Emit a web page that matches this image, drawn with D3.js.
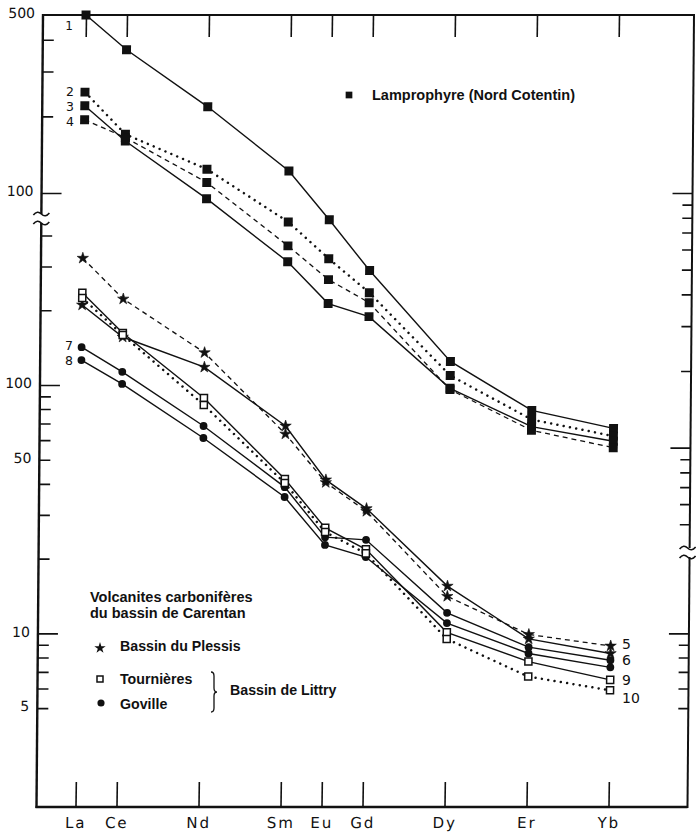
<!DOCTYPE html>
<html><head><meta charset="utf-8">
<script src="https://cdn.jsdelivr.net/npm/d3@7"></script>
<style>html,body{margin:0;padding:0;background:#fff}</style>
</head><body>
<svg id="chart" width="696" height="835"></svg>
<script>
// ---------- data ----------
const elements = ["La","Ce","Nd","Sm","Eu","Gd","Dy","Er","Yb"];
const atomicNumbers = [57,58,60,62,63,64,66,68,70];

// Lamprophyres (Nord Cotentin) - upper panel
const lamp1 = [500, 365, 218, 122, 78.5, 49.6, 21.8, 14.0, 11.9];
const lamp2 = [249, 170, 124, 77, 55.2, 40.6, 19.2, 12.9, 11.1];
const lamp3 = [220, 160, 95, 53.7, 36.8, 32.7, 17.1, 12.1, 10.6];
const lamp4 = [194, 165, 110, 62, 45.7, 37.1, 16.9, 11.7, 10.0];

// Volcanites carbonifères - lower panel
const plessis5 = [324, 222, 135, 63.5, 40.5, 31.0, 14.1, 9.9, 8.9];
const plessis6 = [210, 156, 118, 68.4, 41.5, 31.8, 15.5, 9.5, 8.3];
const goville7 = [142, 113, 68.4, 38.8, 24.4, 23.8, 12.1, 8.8, 7.8];
const goville8 = [126, 101, 61.2, 35.4, 22.7, 20.3, 11.0, 8.3, 7.3];
const tourn9   = [235, 162, 88.7, 41.8, 26.6, 21.8, 10.1, 7.7, 6.5];
const tourn10  = [224, 159, 83.1, 40.3, 25.6, 21.0, 9.5, 6.7, 5.9];

// tick values
const upperLeftMinor = [400, 300, 200];
const upperMajor = [100];
const upperRightMinor = [90, 80, 70, 60, 50, 40, 30, 20, 9, 8, 7, 6, 5];
const upperRightMajor = [100, 10];
const lowerLeftMinor = [400, 300, 200, 90, 80, 70, 60, 50, 40, 30, 20, 9, 8, 7, 6, 5];
const lowerMajor = [100, 10];
const lowerRightMinor = [9, 8, 7, 6, 5];
const lowerRightMajor = [10];
const upperLabels = [500, 100];
const lowerLabels = [100, 50, 10, 5];

// ---------- layout ----------
const svg = d3.select("#chart");
const topY = 15, bottomY = 807, innerH = bottomY - topY;
const frameLeft = 43, frameRight = 694;
const deg = v => Math.atan(v) * 180 / Math.PI;
const frameSkew = deg(-6.5 / innerH);
const dataSkew = deg(-10.5 / innerH);

const x = d3.scaleLinear().domain([57, 70]).range([86, 619]);
const yUp = d3.scaleLog().domain([100, 500]).range([178, 0]);
const yLo = d3.scaleLog().domain([2, 100]).range([innerH, 370]);

const frame = svg.append("g").attr("transform", `translate(0,${topY}) skewX(${frameSkew})`);
const plot = svg.append("g").attr("transform", `translate(0,${topY}) skewX(${dataSkew})`);

const ink = "#111";
const numFont = "'DejaVu Sans', sans-serif";
const boldFont = "'Liberation Sans', Arial, sans-serif";

// frame lines
const leftBreak = [199, 208];   // local y gap on left axis
const rightBreak = [533, 542];  // local y gap on right axis
frame.append("line").attr("x1", frameLeft).attr("x2", frameRight).attr("y1", 0).attr("y2", 0)
  .attr("stroke", ink).attr("stroke-width", 2);
frame.append("line").attr("x1", frameLeft - 1).attr("x2", frameRight).attr("y1", innerH).attr("y2", innerH)
  .attr("stroke", ink).attr("stroke-width", 2.6);
frame.append("line").attr("x1", frameLeft).attr("x2", frameLeft).attr("y1", -1).attr("y2", leftBreak[0])
  .attr("stroke", ink).attr("stroke-width", 2.4);
frame.append("line").attr("x1", frameLeft).attr("x2", frameLeft).attr("y1", leftBreak[1]).attr("y2", innerH + 1)
  .attr("stroke", ink).attr("stroke-width", 2.4);
frame.append("line").attr("x1", frameRight).attr("x2", frameRight).attr("y1", -1).attr("y2", rightBreak[0])
  .attr("stroke", ink).attr("stroke-width", 2);
frame.append("line").attr("x1", frameRight).attr("x2", frameRight).attr("y1", rightBreak[1]).attr("y2", innerH + 1)
  .attr("stroke", ink).attr("stroke-width", 2);

function breakMark(g, cx, y0, y1) {
  [y0, y1].forEach(yy => {
    g.append("path")
      .attr("d", `M${cx - 8},${yy + 1} q4,-5 8,-1 t8,-1`)
      .attr("fill", "none").attr("stroke", ink).attr("stroke-width", 1.6);
  });
}
breakMark(frame, frameLeft, leftBreak[0], leftBreak[1]);
breakMark(frame, frameRight - 2, rightBreak[0], rightBreak[1]);

// axis tick helper
function ticks(axisFn, scale, values, size, xpos) {
  const g = frame.append("g").attr("transform", `translate(${xpos},0)`)
    .call(axisFn(scale).tickValues(values).tickSize(size).tickFormat(""));
  g.select(".domain").remove();
  g.selectAll(".tick line").attr("stroke", ink).attr("stroke-width", 1.6);
  return g;
}
// left (ticks pointing inward / right)
ticks(d3.axisRight, yUp, upperLeftMinor, 11, frameLeft);
ticks(d3.axisRight, yUp, upperMajor, 20, frameLeft);
ticks(d3.axisRight, yLo, lowerLeftMinor, 11, frameLeft);
ticks(d3.axisRight, yLo, lowerMajor, 20, frameLeft);
// right (ticks pointing inward / left)
ticks(d3.axisLeft, yUp, upperRightMinor, 10, frameRight);
ticks(d3.axisLeft, yUp, upperRightMajor, 20, frameRight);
ticks(d3.axisLeft, yLo, lowerRightMinor, 10, frameRight);
ticks(d3.axisLeft, yLo, lowerRightMajor, 20, frameRight);

// left labels
function yLabels(scale, values) {
  const g = frame.append("g").attr("transform", `translate(${frameLeft},0)`)
    .call(d3.axisLeft(scale).tickValues(values).tickSize(0).tickPadding(8).tickFormat(d3.format("d")));
  g.select(".domain").remove();
  g.selectAll(".tick text").attr("font-family", numFont).attr("font-size", 14)
    .attr("fill", ink).attr("dy", "0.2em");
}
yLabels(yUp, upperLabels);
yLabels(yLo, lowerLabels);

// top ticks (pointing down)
const topAxis = plot.append("g").attr("transform", "translate(0,0)")
  .call(d3.axisBottom(x).tickValues(atomicNumbers).tickSize(22).tickFormat(""));
topAxis.select(".domain").remove();
topAxis.selectAll(".tick line").attr("stroke", ink).attr("stroke-width", 1.6);

// bottom ticks (pointing up) with element labels
const botAxis = plot.append("g").attr("transform", `translate(0,${innerH})`)
  .call(d3.axisBottom(x).tickValues(atomicNumbers).tickSizeInner(-25).tickSizeOuter(0).tickPadding(10)
    .tickFormat(d => elements[atomicNumbers.indexOf(d)]));
botAxis.select(".domain").remove();
botAxis.selectAll(".tick line").attr("stroke", ink).attr("stroke-width", 1.6);
botAxis.selectAll(".tick text").attr("font-family", numFont).attr("font-size", 15)
  .attr("letter-spacing", 2).attr("fill", ink);

// ---------- series ----------
const styles = {
  solid:  {dash: null, width: 1.4, cap: "butt"},
  dotted: {dash: "0.01 6.4", width: 2.5, cap: "round"},
  dashed: {dash: "5 4", width: 1.3, cap: "butt"}
};
const series = [
  {v: lamp1, y: yUp, style: "solid", mark: "fsq"},
  {v: lamp2, y: yUp, style: "dotted", mark: "fsq"},
  {v: lamp3, y: yUp, style: "solid", mark: "fsq"},
  {v: lamp4, y: yUp, style: "dashed", mark: "fsq"},
  {v: plessis5, y: yLo, style: "dashed", mark: "star"},
  {v: plessis6, y: yLo, style: "solid", mark: "star"},
  {v: goville7, y: yLo, style: "solid", mark: "circle"},
  {v: goville8, y: yLo, style: "solid", mark: "circle"},
  {v: tourn9, y: yLo, style: "solid", mark: "osq"},
  {v: tourn10, y: yLo, style: "dotted", mark: "osq"}
];

series.forEach(s => {
  const line = d3.line().x((d, i) => x(atomicNumbers[i])).y(d => s.y(d));
  const st = styles[s.style];
  plot.append("path").attr("d", line(s.v)).attr("fill", "none")
    .attr("stroke", ink).attr("stroke-width", st.width)
    .attr("stroke-dasharray", st.dash).attr("stroke-linecap", st.cap);
});

const markDefs = {
  fsq:    {type: d3.symbolSquare, size: 80, fill: ink, stroke: "none", sw: 0},
  star:   {type: d3.symbolStar, size: 40, fill: ink, stroke: ink, sw: 0.6},
  circle: {type: d3.symbolCircle, size: 48, fill: ink, stroke: "none", sw: 0},
  osq:    {type: d3.symbolSquare, size: 50, fill: "#fff", stroke: ink, sw: 1.5}
};
series.forEach(s => {
  const m = markDefs[s.mark];
  plot.append("g").selectAll("path").data(s.v).join("path")
    .attr("transform", (d, i) => `translate(${x(atomicNumbers[i])},${s.y(d)})`)
    .attr("d", d3.symbol().type(m.type).size(m.size))
    .attr("fill", m.fill).attr("stroke", m.stroke).attr("stroke-width", m.sw);
});

// ---------- annotations ----------
function txt(t, xx, yy, opts = {}) {
  svg.append("text").attr("x", xx).attr("y", yy).text(t)
    .attr("font-family", opts.font || numFont).attr("font-size", opts.size || 15)
    .attr("font-weight", opts.weight || "normal").attr("text-anchor", opts.anchor || "start")
    .attr("fill", ink);
}
// series numbers
txt("1", 73, 30, {anchor: "end", size: 12});
txt("2", 74, 96, {anchor: "end", size: 12.5});
txt("3", 74, 111, {anchor: "end", size: 12.5});
txt("4", 74, 126, {anchor: "end", size: 12.5});
txt("7", 73, 350, {anchor: "end", size: 12.5});
txt("8", 73, 365, {anchor: "end", size: 12.5});
txt("5", 622, 649, {size: 14});
txt("6", 622, 665, {size: 14});
txt("9", 622, 685, {size: 14});
txt("10", 622, 703, {size: 14});

// Lamprophyre legend
svg.append("path").attr("transform", "translate(349,95)")
  .attr("d", d3.symbol().type(d3.symbolSquare).size(45)).attr("fill", ink);
txt("Lamprophyre (Nord Cotentin)", 372, 100, {font: boldFont, weight: "bold", size: 14.5});

// lower legend
txt("Volcanites carbonifères", 90, 602, {font: boldFont, weight: "bold", size: 14.5});
txt("du bassin de Carentan", 90, 618, {font: boldFont, weight: "bold", size: 14.5});
svg.append("path").attr("transform", "translate(100,648)")
  .attr("d", d3.symbol().type(d3.symbolStar).size(40)).attr("fill", ink);
txt("Bassin du Plessis", 120, 651, {font: boldFont, weight: "bold", size: 14.2});
svg.append("path").attr("transform", "translate(100,679)")
  .attr("d", d3.symbol().type(d3.symbolSquare).size(36)).attr("fill", "#fff")
  .attr("stroke", ink).attr("stroke-width", 1.5);
txt("Tournières", 120, 684, {font: boldFont, weight: "bold", size: 14.2});
svg.append("path").attr("transform", "translate(101,703)")
  .attr("d", d3.symbol().type(d3.symbolCircle).size(40)).attr("fill", ink);
txt("Goville", 120, 709, {font: boldFont, weight: "bold", size: 14.2});
// brace
svg.append("path")
  .attr("d", "M211,672 q3,0 3,4 v12 q0,4 3,4 q-3,0 -3,4 v12 q0,4 -3,4")
  .attr("fill", "none").attr("stroke", ink).attr("stroke-width", 1.3);
txt("Bassin de Littry", 230, 695, {font: boldFont, weight: "bold", size: 14.2});
</script>
</body></html>
